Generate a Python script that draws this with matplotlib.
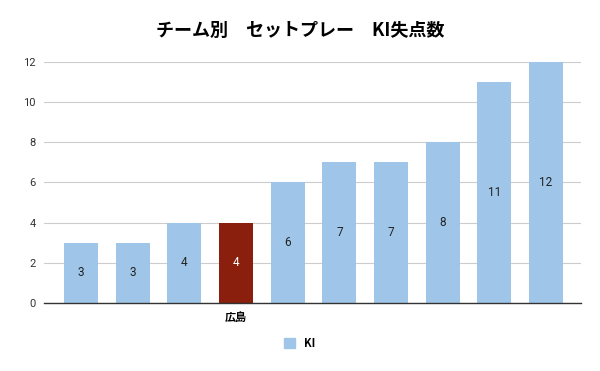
import matplotlib
matplotlib.use("Agg")
import matplotlib.pyplot as plt
import matplotlib.patches as mpatches

plt.rcParams["font.family"] = ["Noto Sans CJK JP", "DejaVu Sans"]

teams = ["", "", "", "広島", "", "", "", "", "", ""]
ki_conceded = [3, 3, 4, 4, 6, 7, 7, 8, 11, 12]
highlight = "広島"

BLUE = "#9fc5e8"
RED = "#8b1f0d"

fig = plt.figure(figsize=(6, 3.71), dpi=100)
ax = fig.add_axes([0.0733, 0.1833, 0.895, 0.65])

x = list(range(len(ki_conceded)))
colors = [RED if t == highlight else BLUE for t in teams]
bars = ax.bar(x, ki_conceded, width=0.66, color=colors, zorder=2)

for xi, v, t in zip(x, ki_conceded, teams):
    ax.text(xi, v / 2, str(v), ha="center", va="center", fontsize=8.5,
            family=["Roboto", "DejaVu Sans"],
            color="white" if t == highlight else "#222222", zorder=3)

ax.set_xlim(-0.72, 9.68)
ax.set_ylim(0, 12)
ax.set_yticks(range(0, 13, 2))
ax.set_yticklabels([str(v) for v in range(0, 13, 2)], family=["Roboto", "DejaVu Sans"],
                   fontsize=8, color="#333333")
ax.set_xticks(x)
ax.set_xticklabels(teams, fontsize=8, fontweight="bold")
ax.tick_params(axis="both", length=0, pad=6)
ax.grid(axis="y", color="#cccccc", lw=0.8, zorder=0)
for s in ["top", "right", "left"]:
    ax.spines[s].set_visible(False)
ax.spines["bottom"].set_color("#333333")
ax.spines["bottom"].set_linewidth(1)

fig.text(0.5, 0.918, "チーム別　セットプレー　KI失点数", ha="center", va="center",
         fontsize=13, fontweight="bold")

handle = mpatches.Patch(color=BLUE, label="KI")
fig.legend(handles=[handle], loc="center", bbox_to_anchor=(0.5, 0.075), frameon=False,
           handlelength=1.0, handleheight=1.0,
           prop={"weight": "bold", "size": 8})

fig.savefig("out.png", dpi=100)
